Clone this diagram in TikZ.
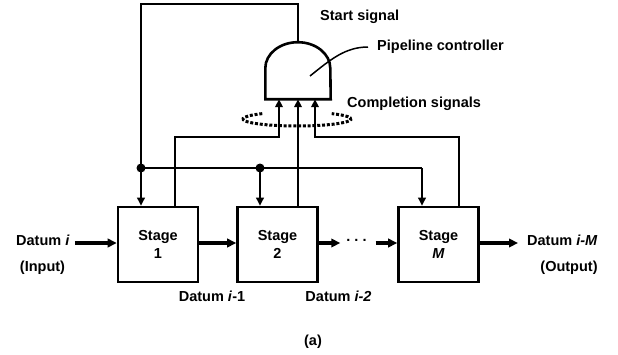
\documentclass[tikz,border=0pt]{standalone}
\usepackage{fontspec}
\setmainfont{Liberation Sans}
\usetikzlibrary{arrows.meta,calc}
\begin{document}
\begin{tikzpicture}[x=1pt,y=1pt,
  lbl/.style={font=\fontsize{14.5}{17}\selectfont\bfseries, inner sep=0pt},
  stagebox/.style={draw, line width=2.6pt, minimum width=80pt, minimum height=75pt, align=center,
    font=\fontsize{14.5}{18}\selectfont\bfseries, inner sep=0pt},
  wire/.style={line width=2.5pt},
  ctl/.style={line width=2.5pt, -{Triangle[length=8pt,width=7.5pt]}},
  dat/.style={line width=3.4pt, -{Triangle[length=9pt,width=8.5pt]}},
  junct/.style={circle, fill, inner sep=0pt, minimum size=9pt}]
\useasboundingbox (0,0) rectangle (618,-354);

% stages
\node[stagebox] (s1) at (158,-244.5) {Stage\\1};
\node[stagebox] (s2) at (277.5,-244.5) {Stage\\2};
\node[stagebox] (sM) at (438.5,-244.5) {Stage\\\textit{M}};

% controller
\node[minimum width=65pt, minimum height=57pt, inner sep=0pt] (ctrl) at (298,-70.5) {};
\draw[line width=2.6pt] (ctrl.south west) -- ++(0,31)
   arc[start angle=180, end angle=0, x radius=32.5pt, y radius=26pt]
   -- (ctrl.south east) -- cycle;

% labels
\node[lbl, anchor=west] (din) at (16,-240) {Datum \textit{i}};
\node[lbl] (inp) at (42.5,-268) {(Input)};
\node[lbl] (d1l) at (212,-296) {Datum \textit{i}-1};
\node[lbl] (d2l) at (338.5,-296) {Datum \textit{i-2}};
\node[lbl, anchor=west] (dout) at (527,-240) {Datum \textit{i-M}};
\node[lbl] (outp) at (569,-268) {(Output)};
\node[lbl, anchor=west] (ss) at (320,-17) {Start signal};
\node[lbl, anchor=west] (pc) at (377,-47) {Pipeline controller};
\node[lbl, anchor=west] (cs) at (347,-104) {Completion signals};
\node[lbl] (cap) at (313,-342) {(a)};
\node[lbl] (dots) at (356.5,-240) {.\kern4pt.\kern4pt.};

% data path
\coordinate (ay) at (0,-243);
\draw[dat] ([xshift=5pt]din.east |- ay) -- (s1.west |- ay);
\draw[dat] (s1.east |- ay) -- (s2.west |- ay);
\draw[dat] (s2.east |- ay) -- ([xshift=-6pt]dots.west |- ay);
\draw[dat] ([xshift=9pt]dots.east |- ay) -- (sM.west |- ay);
\draw[dat] (sM.east |- ay) -- ([xshift=-9pt]dout.west |- ay);

% start signal
\coordinate (tl) at (141,-4);
\node[junct] (j1) at (141,-168) {};
\node[junct] (j2) at (260,-168) {};
\coordinate (bm) at (422,-168);
\draw[ctl] (ctrl.north) |- (tl) -- (tl |- s1.north);
\draw[wire] (j1.center) -- (bm);
\draw[ctl] (bm) -- (bm |- sM.north);
\draw[ctl] (j2.center) -- (j2 |- s2.north);

% completion signals
\coordinate (k1) at (279,-137);
\coordinate (kM) at (315,-137);
\draw[ctl] ($(s1.north)+(17,0)$) |- (k1) -- (k1 |- ctrl.south);
\draw[ctl] (s2.north -| ctrl.south) -- (ctrl.south);
\draw[ctl] ($(sM.north)+(20.5,0)$) |- (kM) -- (kM |- ctrl.south);

% dotted ellipse
\coordinate (ec) at (297,-119);
\draw[line width=3pt, dash pattern=on 3pt off 1.8pt]
   ($(ec)+(130:54pt and 7pt)$) arc[start angle=130, end angle=410, x radius=54pt, y radius=7pt];

% leader
\coordinate (lead) at (310,-76);
\draw[line width=1.5pt] ([xshift=-9pt]pc.west) .. controls (345,-47) and (330,-60) .. (lead);
\end{tikzpicture}
\end{document}
